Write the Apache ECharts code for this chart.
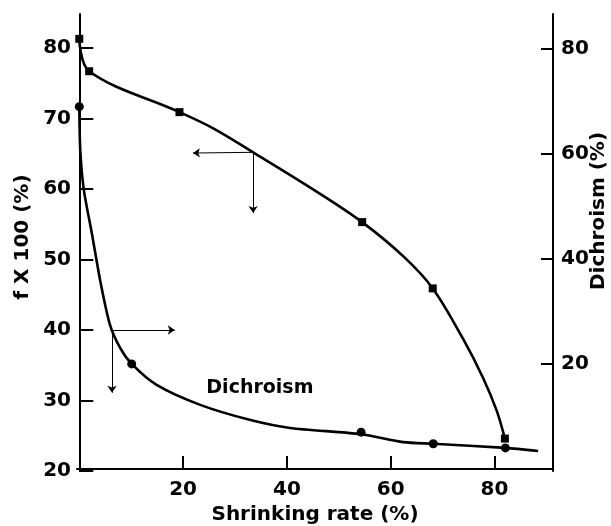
<!DOCTYPE html>
<html>
<head>
<meta charset="utf-8">
<script src="https://cdn.jsdelivr.net/npm/echarts@6/dist/echarts.min.js"></script>
<style>html,body{margin:0;padding:0;background:#fff}#c{width:611px;height:526px}</style>
</head>
<body>
<div id="c"></div>
<script>
// ---- data ----
const xTicks = [20, 40, 60, 80];
const leftTicks = [20, 30, 40, 50, 60, 70, 80];
const rightTicks = [20, 40, 60, 80];

// f x 100 (%) curve (left axis)
const fPath = [[0,81.3],[1.9,76.7],[19.3,70.9],[25.8,68.6],[33.5,65.2],[45.8,59.6],[54.5,55.3],[62.5,50.4],[68.1,45.9],[73.9,38.8],[77.8,33.2],[80.4,28.6],[82.0,24.6]];
const fMarkers = [[0,81.3],[1.9,76.7],[19.3,70.9],[54.5,55.3],[68.1,45.9],[82.0,24.6]];

// Dichroism (%) curve (right axis)
const dPath = [[0,69.0],[0.2,60.5],[0.9,53.0],[2.4,45.0],[4.1,35.5],[5.9,27.5],[7.9,23.0],[10.1,20.0],[14.9,16.0],[23.3,12.2],[33,9.3],[40.6,7.8],[54.3,6.6],[62.4,5.1],[68.2,4.8],[82.1,4.0],[88.4,3.4]];
const dMarkers = [[0,69.0],[10.1,20.0],[54.3,7.0],[68.2,4.8],[82.1,4.0]];

// arrows (left-axis coordinates): [from, to]
const arrows = [
  [[33.5,65.2],[21.9,65.1]],
  [[33.5,65.2],[33.5,56.6]],
  [[6.3,40.0],[18.4,40.0]],
  [[6.3,40.0],[6.3,31.1]]
];
const curveLabel = {text: 'Dichroism', x: 34.8, y: 15.4};

const FONT = 'DejaVu Sans';
const chart = echarts.init(document.getElementById('c'), null, {renderer: 'canvas'});
const labelStyle = {color: '#000', fontFamily: FONT, fontWeight: 'bold', fontSize: 20};
const lineStyle = {color: '#000', width: 2};

chart.setOption({
  animation: false,
  backgroundColor: '#fff',
  grid: {left: 77, right: 58, top: 14, bottom: 55},
  xAxis: {
    type: 'value', min: -0.44, max: 91.27,
    axisLine: {show: true, lineStyle: lineStyle},
    axisTick: {show: true, inside: true, length: 13, lineStyle: {color: '#000', width: 2}, customValues: xTicks},
    axisLabel: Object.assign({margin: 9, customValues: xTicks}, labelStyle),
    splitLine: {show: false}
  },
  yAxis: [{
    type: 'value', position: 'left', min: 20, max: 84.82,
    axisLine: {show: true, lineStyle: lineStyle},
    axisTick: {show: true, inside: true, length: 14, lineStyle: {color: '#000', width: 2}, customValues: leftTicks},
    axisLabel: Object.assign({margin: 6, customValues: leftTicks}, labelStyle),
    splitLine: {show: false}
  }, {
    type: 'value', position: 'right', min: -0.4, max: 86.65,
    axisLine: {show: true, lineStyle: lineStyle},
    axisTick: {show: true, inside: true, length: 12, lineStyle: {color: '#000', width: 2}, customValues: rightTicks},
    axisLabel: Object.assign({margin: 8, customValues: rightTicks}, labelStyle),
    splitLine: {show: false}
  }],
  graphic: [
    {type: 'text', x: 23, y: 237, rotation: Math.PI / 2,
     style: {text: 'f X 100 (%)', fill: '#000', font: 'bold 20px "DejaVu Sans"', align: 'center', verticalAlign: 'middle'}},
    {type: 'text', x: 599, y: 211, rotation: Math.PI / 2,
     style: {text: 'Dichroism (%)', fill: '#000', font: 'bold 20px "DejaVu Sans"', align: 'center', verticalAlign: 'middle'}},
    {type: 'text', x: 315, y: 515,
     style: {text: 'Shrinking rate (%)', fill: '#000', font: 'bold 20px "DejaVu Sans"', align: 'center', verticalAlign: 'middle'}}
  ],
  series: [
    {type: 'line', name: 'f', yAxisIndex: 0, data: fPath, smooth: 0.35, showSymbol: false,
     lineStyle: {color: '#000', width: 2.6}},
    {type: 'scatter', yAxisIndex: 0, data: fMarkers, symbol: 'rect', symbolSize: 8, itemStyle: {color: '#000', opacity: 1}},
    {type: 'line', name: 'Dichroism', yAxisIndex: 1, data: dPath, smooth: 0.25, showSymbol: false,
     lineStyle: {color: '#000', width: 2.6}},
    {type: 'scatter', yAxisIndex: 1, data: dMarkers, symbol: 'circle', symbolSize: 9, itemStyle: {color: '#000', opacity: 1}},
    {type: 'scatter', yAxisIndex: 1, data: [[curveLabel.x, curveLabel.y]], symbolSize: 0, itemStyle: {opacity: 1},
     label: {show: true, position: 'inside', formatter: curveLabel.text, color: '#000', opacity: 1, fontFamily: FONT, fontWeight: 'bold', fontSize: 19}},
    {type: 'lines', coordinateSystem: 'cartesian2d', xAxisIndex: 0, yAxisIndex: 0,
     data: arrows.map(a => ({coords: a})),
     symbol: ['none', 'arrow'], symbolSize: [0, 7],
     lineStyle: {color: '#000', width: 1, opacity: 1}}
  ]
});
</script>
</body>
</html>
